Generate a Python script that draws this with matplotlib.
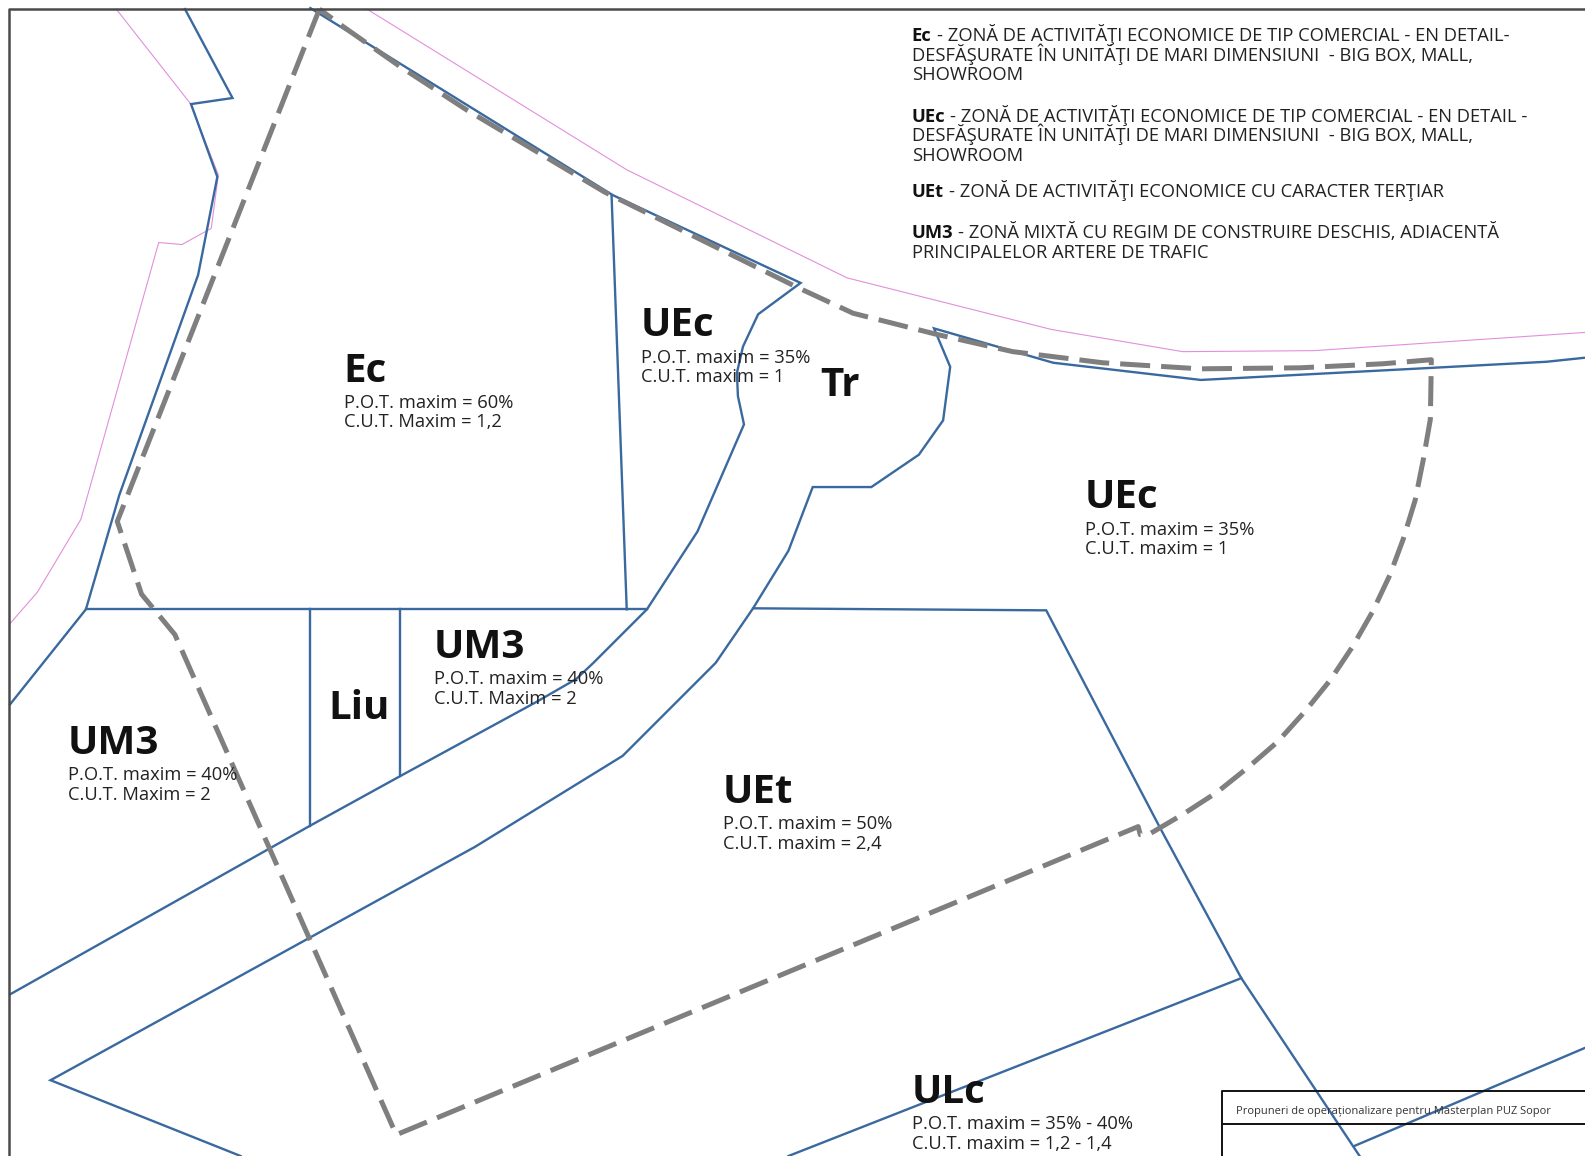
# -*- coding: utf-8 -*-
import matplotlib
matplotlib.use('Agg')
import matplotlib.pyplot as plt

# map polylines (x, y in plan units, y going down)
blue_lines = [
    [(183, 9), (230, 97), (189, 103), (215, 175), (196, 272), (118, 490), (85, 603), (10, 697)],
    [(85, 603), (640, 603)],
    [(605, 193), (620, 603)],
    [(307, 8), (606, 193), (792, 280), (750, 311), (735, 343), (729, 369), (730, 392), (736, 420), (690, 526),
     (640, 603), (587, 656), (570, 672), (530, 695), (396, 768), (307, 817), (10, 984)],
    [(307, 603), (307, 817)],
    [(396, 603), (396, 768)],
    [(1568, 354), (1530, 358), (1417, 364), (1188, 376), (1042, 359), (924, 325), (940, 363), (933, 416),
     (909, 450), (862, 482), (804, 482), (780, 545), (745, 602), (708, 656), (616, 748), (470, 838),
     (50, 1069), (238, 1144)],
    [(745, 602), (1035, 604), (1148, 820), (1228, 968), (1345, 1144)],
    [(1228, 968), (780, 1144)],
    [(1568, 1037), (1340, 1134)],
]
pink_lines = [
    [(115, 9), (188, 102), (216, 173), (209, 226), (180, 242), (157, 240), (80, 514), (37, 586), (10, 617)],
    [(363, 9), (620, 168), (838, 275), (1040, 326), (1170, 348), (1300, 347), (1568, 329)],
]
boundary = [(316, 9), (116, 516), (140, 588), (173, 628), (392, 1123), (1126, 818), (1128, 826), (1136, 826),
            (1170, 806), (1204, 784), (1234, 760), (1264, 734), (1291, 704), (1316, 673), (1338, 640),
            (1358, 605), (1375, 569), (1388, 534), (1400, 495), (1408, 455), (1415, 415), (1416, 356),
            (1368, 360), (1286, 364), (1187, 365), (1091, 359), (1002, 348), (927, 331), (844, 310),
            (788, 284), (598, 190), (462, 109), (396, 66), (339, 26), (316, 9)]

# zone labels: name, x, y of name, first row, y, second row, y
zones = [
    ('Ec', 340, 365, 'P.O.T. maxim = 60%', 398, 'C.U.T. Maxim = 1,2', 417),
    ('UEc', 634, 320, 'P.O.T. maxim = 35%', 354, 'C.U.T. maxim = 1', 373),
    ('UEc', 1073, 490, 'P.O.T. maxim = 35%', 524, 'C.U.T. maxim = 1', 543),
    ('UM3', 429, 638, 'P.O.T. maxim = 40%', 671, 'C.U.T. Maxim = 2', 691),
    ('UM3', 67, 733, 'P.O.T. maxim = 40%', 766, 'C.U.T. Maxim = 2', 786),
    ('UEt', 715, 782, 'P.O.T. maxim = 50%', 815, 'C.U.T. maxim = 2,4', 835),
    ('ULc', 902, 1079, 'P.O.T. maxim = 35% - 40%', 1112, 'C.U.T. maxim = 1,2 - 1,4', 1132),
]
plain_labels = [('Tr', 811, 379), ('Liu', 325, 699)]

# legend rows: bold part, normal part, y
legend_rows = [
    ('Ec', ' - ZONĂ DE ACTIVITĂŢI ECONOMICE DE TIP COMERCIAL - EN DETAIL-', 34),
    ('', 'DESFĂŞURATE ÎN UNITĂŢI DE MARI DIMENSIUNI  - BIG BOX, MALL,', 54),
    ('', 'SHOWROOM', 73),
    ('UEc', ' - ZONĂ DE ACTIVITĂŢI ECONOMICE DE TIP COMERCIAL - EN DETAIL -', 114),
    ('', 'DESFĂŞURATE ÎN UNITĂŢI DE MARI DIMENSIUNI  - BIG BOX, MALL,', 133),
    ('', 'SHOWROOM', 153),
    ('UEt', ' - ZONĂ DE ACTIVITĂŢI ECONOMICE CU CARACTER TERŢIAR', 188),
    ('UM3', ' - ZONĂ MIXTĂ CU REGIM DE CONSTRUIRE DESCHIS, ADIACENTĂ', 229),
    ('', 'PRINCIPALELOR ARTERE DE TRAFIC', 249),
]
title_text = 'Propuneri de operaționalizare pentru Masterplan PUZ Sopor'

plt.rcParams['font.family'] = ['Open Sans', 'DejaVu Sans']
BLUE = '#39699f'
PINK = '#e28fdc'
GREY = '#7f7f7f'
DARK = '#4a4a4a'

fig = plt.figure(figsize=(15.85, 11.56), dpi=100)
ax = fig.add_axes([0, 0, 1, 1])
ax.set_xlim(0, 1568)
ax.set_ylim(1144, 0)
ax.axis('off')


def draw_line(points, **kwargs):
    ax.plot([p[0] for p in points], [p[1] for p in points], **kwargs)


def label(x, y, s, size, weight='normal', color='#222222'):
    return ax.text(x, y, s, fontsize=size, fontweight=weight, color=color,
                   va='baseline', ha='left', zorder=6)


for line in pink_lines:
    draw_line(line, color=PINK, lw=0.8, zorder=2)
for line in blue_lines:
    draw_line(line, color=BLUE, lw=1.7, zorder=3, solid_joinstyle='miter')
draw_line(boundary, color=GREY, lw=3.6, zorder=4, linestyle=(0, (6.0, 2.2)), dash_capstyle='butt')

# sheet frame
draw_line([(9, 1144), (9, 9), (1568, 9)], color=DARK, lw=1.8, zorder=5)

# title block
draw_line([(1209, 1144), (1209, 1079.5), (1568, 1079.5)], color='#111111', lw=1.4, zorder=5)
draw_line([(1209, 1112), (1568, 1112)], color='#111111', lw=1.4, zorder=5)
label(1223, 1102, title_text, 8.0, color='#333333')

for name, x, y, row1, y1, row2, y2 in zones:
    label(x, y + 13, name, 29, 'bold', '#111111')
    label(x, y1 + 5.5, row1, 13.2)
    label(x, y2 + 5.5, row2, 13.2)
for name, x, y in plain_labels:
    label(x, y + 13, name, 29, 'bold', '#111111')

renderer = fig.canvas.get_renderer()
for bold, rest, y in legend_rows:
    x = 902
    if bold:
        t = label(x, y + 6.5, bold, 13.2, 'bold', '#111111')
        box = t.get_window_extent(renderer)
        x = ax.transData.inverted().transform((box.x1, box.y0))[0] + 5
        rest = rest.lstrip()
    label(x, y + 6.5, rest, 13.2)

fig.savefig('out.png', dpi=100, facecolor='white')
